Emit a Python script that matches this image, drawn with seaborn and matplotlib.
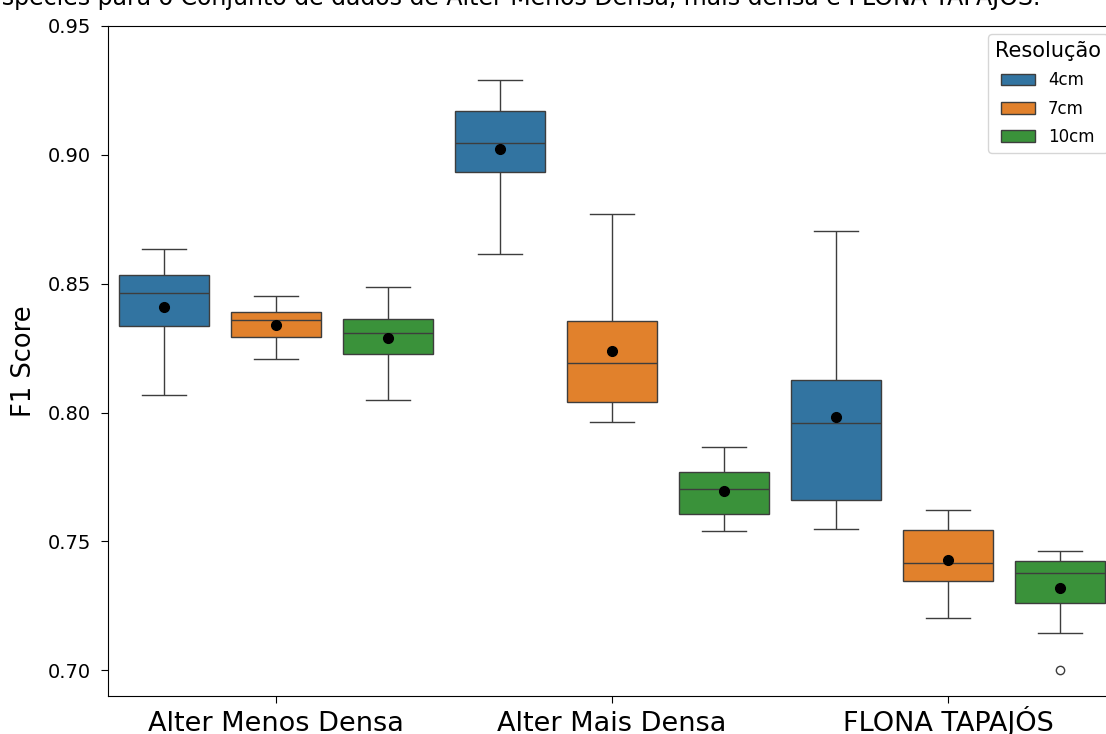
import matplotlib
matplotlib.use("Agg")
import matplotlib.pyplot as plt
import seaborn as sns
import pandas as pd

# ---- data (F1 scores) ----
conjuntos = ["Alter Menos Densa", "Alter Mais Densa", "FLONA TAPAJÓS"]
resolucoes = ["4cm", "7cm", "10cm"]

menos_4cm = [0.8068, 0.8200, 0.8334, 0.8400, 0.8462, 0.8500, 0.8535, 0.8557, 0.8634]
menos_7cm = [0.8208, 0.8250, 0.8293, 0.8320, 0.8361, 0.8372, 0.8390, 0.8395, 0.8453]
menos_10cm = [0.8047, 0.8150, 0.8229, 0.8280, 0.8309, 0.8335, 0.8364, 0.8400, 0.8487]

mais_4cm = [0.8614, 0.8800, 0.8935, 0.9000, 0.9045, 0.9110, 0.9171, 0.9242, 0.9290]
mais_7cm = [0.7963, 0.8000, 0.8039, 0.8100, 0.8194, 0.8280, 0.8355, 0.8433, 0.8769]
mais_10cm = [0.7539, 0.7570, 0.7605, 0.7660, 0.7705, 0.7740, 0.7771, 0.7800, 0.7865]

flona_4cm = [0.7548, 0.7600, 0.7659, 0.7850, 0.7960, 0.8050, 0.8126, 0.8348, 0.8706]
flona_7cm = [0.7202, 0.7290, 0.7347, 0.7380, 0.7415, 0.7480, 0.7544, 0.7556, 0.7620]
flona_10cm = [0.7000, 0.7143, 0.7250, 0.7290, 0.7370, 0.7382, 0.7405, 0.7432, 0.7455, 0.7464]

series = {
    ("Alter Menos Densa", "4cm"): menos_4cm,
    ("Alter Menos Densa", "7cm"): menos_7cm,
    ("Alter Menos Densa", "10cm"): menos_10cm,
    ("Alter Mais Densa", "4cm"): mais_4cm,
    ("Alter Mais Densa", "7cm"): mais_7cm,
    ("Alter Mais Densa", "10cm"): mais_10cm,
    ("FLONA TAPAJÓS", "4cm"): flona_4cm,
    ("FLONA TAPAJÓS", "7cm"): flona_7cm,
    ("FLONA TAPAJÓS", "10cm"): flona_10cm,
}

rows = []
for (conj, res), vals in series.items():
    for v in vals:
        rows.append({"Conjunto": conj, "Resolução": res, "F1 Score": v})
df = pd.DataFrame(rows)

titulo = ("F1 Score por espécies para o Conjunto de dados de Alter Menos Densa, "
          "mais densa e FLONA TAPAJÓS.")

# ---- figure ----
W, H = 1106, 734
fig = plt.figure(figsize=(W / 100, H / 100), dpi=100)
ax = fig.add_axes([108 / W, (H - 696) / H, 1008 / W, (696 - 26) / H])

sns.boxplot(
    data=df, x="Conjunto", y="F1 Score", hue="Resolução",
    order=conjuntos, hue_order=resolucoes, ax=ax,
    width=1.0, gap=0.2,
    showmeans=True,
    meanprops=dict(marker="o", markerfacecolor="black",
                   markeredgecolor="black", markersize=7),
    fliersize=6,
)

ax.set_ylim(0.69, 0.95)
ax.set_yticks([0.70, 0.75, 0.80, 0.85, 0.90, 0.95])
ax.tick_params(axis="y", labelsize=14, length=5, pad=7)
# baseline-aligned x labels: baseline ~33 px below the axis line
ax.tick_params(axis="x", labelsize=19.5, length=5, pad=(33 - 5) * 0.72)
for lab in ax.get_xticklabels():
    lab.set_verticalalignment("baseline")
ax.set_xlabel("")
ax.set_ylabel("F1 Score", fontsize=18.5, labelpad=8)

leg = ax.legend(title="Resolução", loc="upper right", fontsize=12,
                title_fontsize=15, labelspacing=0.62)

fig.text(1040 / W, 1 - 5 / H, titulo, ha="right", va="baseline", fontsize=17)

fig.savefig("out.png", dpi=100)
